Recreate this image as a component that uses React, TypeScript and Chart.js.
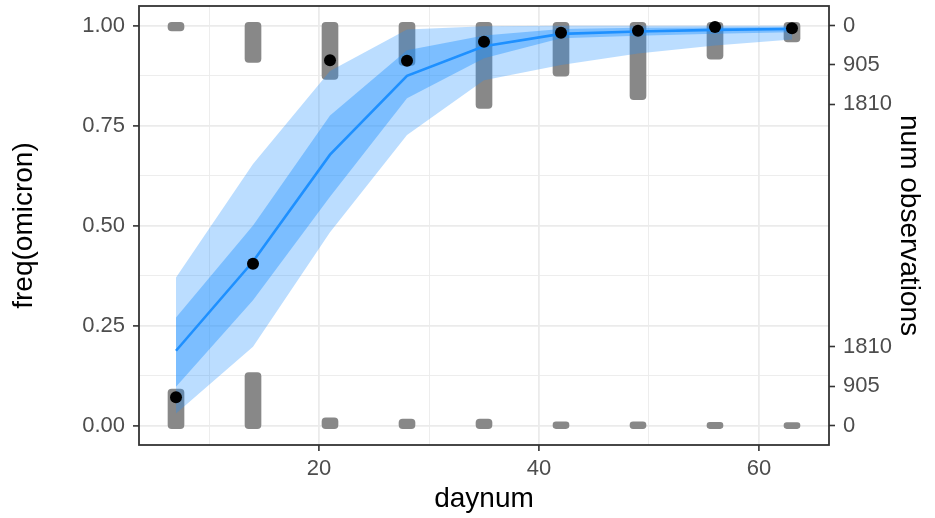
import React, { useEffect, useRef } from "react";
import { Chart, registerables } from "chart.js";

Chart.register(...registerables);

// ---- data ----
const days = [7, 14, 21, 28, 35, 42, 49, 56, 63];
const obsFreq = [0.071, 0.4045, 0.913, 0.9115, 0.959, 0.982, 0.987, 0.996, 0.993];
const medianFreq = [0.187, 0.41, 0.677, 0.874, 0.948, 0.979, 0.985, 0.989, 0.991];
const innerHi = [0.27, 0.5, 0.775, 0.938, 0.975, 0.991, 0.994, 0.995, 0.996];
const innerLo = [0.097, 0.313, 0.572, 0.818, 0.918, 0.968, 0.974, 0.979, 0.983];
const outerHi = [0.37, 0.654, 0.886, 0.99, 0.998, 0.999, 0.999, 0.999, 0.999];
const outerLo = [0.03, 0.197, 0.483, 0.726, 0.863, 0.901, 0.93, 0.95, 0.965];
const countsPositive = [55, 783, 1172, 850, 1838, 1095, 1638, 705, 309];
const countsNegative = [768, 1150, 110, 82, 78, 15, 18, 3, 2];
const countTicks = [0, 905, 1810];
const xTicks = [10, 20, 30, 40, 50, 60];
const xMajor = [20, 40, 60];
const yTicks = [0, 0.125, 0.25, 0.375, 0.5, 0.625, 0.75, 0.875, 1];

// count -> frequency-axis height (tallest bar spans 0.2)
const countMax = 1838;
const barSpan = 0.2;
const k = barSpan / countMax;
const barPad = 0.0075;

const FONT = '"Liberation Sans", Arial, Helvetica, sans-serif';
const TICK_COLOR = "#4D4D4D";
const GRID = "#EBEBEB";

const isMajorY = (v: number) => Math.abs(v * 4 - Math.round(v * 4)) < 1e-6;

const rightTicks = [
  ...countTicks.map((c) => ({ value: c * k, label: String(c) })),
  ...countTicks.map((c) => ({ value: 1 - c * k, label: String(c) })),
].sort((a, b) => a.value - b.value);

const borderPlugin = {
  id: "panelBorder",
  afterDatasetsDraw(chart: any) {
    const { ctx, chartArea } = chart;
    ctx.save();
    ctx.strokeStyle = "#333333";
    ctx.lineWidth = 1.8;
    ctx.strokeRect(chartArea.left, chartArea.top, chartArea.right - chartArea.left, chartArea.bottom - chartArea.top);
    ctx.restore();
  },
};

const zeroPad = (s: any) => {
  s.paddingTop = 0;
  s.paddingBottom = 0;
  s.paddingLeft = 0;
  s.paddingRight = 0;
};

export default function App() {
  const ref = useRef<HTMLCanvasElement | null>(null);

  useEffect(() => {
    document.body.style.margin = "0";
    const pts = (arr: number[]) => days.map((d, i) => ({ x: d, y: arr[i] }));
    const band = "rgba(30,144,255,0.3)";
    const bandInner = "rgba(30,144,255,0.4)";

    const chart = new Chart(ref.current as HTMLCanvasElement, {
      type: "line",
      data: {
        datasets: [
          {
            type: "scatter",
            data: pts(obsFreq),
            backgroundColor: "#000",
            borderWidth: 0,
            pointRadius: 6,
            order: 0,
          } as any,
          {
            data: pts(medianFreq),
            borderColor: "#1E90FF",
            borderWidth: 2.6,
            pointRadius: 0,
            tension: 0,
            fill: false,
            order: 1,
          },
          {
            data: pts(innerHi),
            borderWidth: 0,
            pointRadius: 0,
            backgroundColor: bandInner,
            fill: "+1",
            order: 2,
          },
          {
            data: pts(innerLo),
            borderWidth: 0,
            pointRadius: 0,
            fill: false,
            order: 2,
          },
          {
            data: pts(outerHi),
            borderWidth: 0,
            pointRadius: 0,
            backgroundColor: band,
            fill: "+1",
            order: 3,
          },
          {
            data: pts(outerLo),
            borderWidth: 0,
            pointRadius: 0,
            fill: false,
            order: 3,
          },
          {
            type: "bar",
            data: days.map((d, i) => ({ x: d, y: [-barPad, countsNegative[i] * k + barPad] })),
            backgroundColor: "#888888",
            borderWidth: 0,
            borderRadius: 4,
            borderSkipped: false,
            barThickness: 16,
            grouped: false,
            order: 4,
          } as any,
          {
            type: "bar",
            data: days.map((d, i) => ({ x: d, y: [1 - countsPositive[i] * k - barPad, 1 + barPad] })),
            backgroundColor: "#888888",
            borderWidth: 0,
            borderRadius: 4,
            borderSkipped: false,
            barThickness: 16,
            grouped: false,
            order: 4,
          } as any,
        ],
      },
      options: {
        animation: false,
        responsive: false,
        layout: { padding: { top: 5, left: 0, right: 0, bottom: 0 } },
        plugins: { legend: { display: false }, tooltip: { enabled: false } },
        scales: {
          x: {
            type: "linear",
            min: 3.636,
            max: 66.364,
            offset: false,
            afterFit: (s: any) => {
              s.height = 73;
              zeroPad(s);
            },
            afterBuildTicks: (s: any) => {
              s.ticks = xTicks.map((v) => ({ value: v }));
            },
            border: { display: false },
            grid: {
              offset: false,
              color: GRID,
              lineWidth: (c: any) => (c.tick && xMajor.includes(c.tick.value) ? 1.8 : 0.9),
              tickColor: (c: any) => (c.tick && xMajor.includes(c.tick.value) ? "#333333" : "rgba(0,0,0,0)"),
              tickLength: 6,
              tickWidth: 1.6,
            },
            ticks: {
              autoSkip: false,
              maxRotation: 0,
              padding: 5,
              color: TICK_COLOR,
              font: { family: FONT, size: 22 },
              callback: (v: any) => (xMajor.includes(Number(v)) ? String(v) : ""),
            },
            title: {
              display: true,
              text: "daynum",
              color: "#000",
              font: { family: FONT, size: 28 },
              padding: { top: 0, bottom: 2 },
            },
          },
          y: {
            type: "linear",
            position: "left",
            min: -0.0486,
            max: 1.0486,
            afterFit: (s: any) => {
              s.width = 139;
              zeroPad(s);
            },
            afterBuildTicks: (s: any) => {
              s.ticks = yTicks.map((v) => ({ value: v }));
            },
            border: { display: false },
            grid: {
              color: GRID,
              lineWidth: (c: any) => (c.tick && isMajorY(c.tick.value) ? 1.8 : 0.9),
              tickColor: (c: any) => (c.tick && isMajorY(c.tick.value) ? "#333333" : "rgba(0,0,0,0)"),
              tickLength: 6,
              tickWidth: 1.6,
            },
            ticks: {
              autoSkip: false,
              padding: 8,
              color: TICK_COLOR,
              font: { family: FONT, size: 22 },
              callback: (v: any) => (isMajorY(Number(v)) ? Number(v).toFixed(2) : ""),
            },
            title: {
              display: true,
              text: "freq(omicron)",
              color: "#000",
              font: { family: FONT, size: 28 },
              padding: { top: 7, bottom: 0 },
            },
          },
          y2: {
            type: "linear",
            position: "right",
            min: -0.0486,
            max: 1.0486,
            afterFit: (s: any) => {
              s.width = 106;
              zeroPad(s);
            },
            afterBuildTicks: (s: any) => {
              s.ticks = rightTicks.map((t) => ({ value: t.value }));
            },
            border: { display: false },
            grid: {
              drawOnChartArea: false,
              tickColor: "#333333",
              tickLength: 6,
              tickWidth: 1.6,
            },
            ticks: {
              autoSkip: false,
              padding: 8,
              color: TICK_COLOR,
              font: { family: FONT, size: 22 },
              callback: (_v: any, i: number) => rightTicks[i].label,
            },
            title: {
              display: true,
              text: "num observations",
              color: "#000",
              font: { family: FONT, size: 28 },
              padding: { top: 9, bottom: 0 },
            },
          },
        },
      } as any,
      plugins: [borderPlugin],
    });
    return () => chart.destroy();
  }, []);

  return (
    <div style={{ position: "absolute", left: 0, top: 0, width: 935, height: 518 }}>
      <canvas ref={ref} width={935} height={518} style={{ width: 935, height: 518 }} />
    </div>
  );
}
